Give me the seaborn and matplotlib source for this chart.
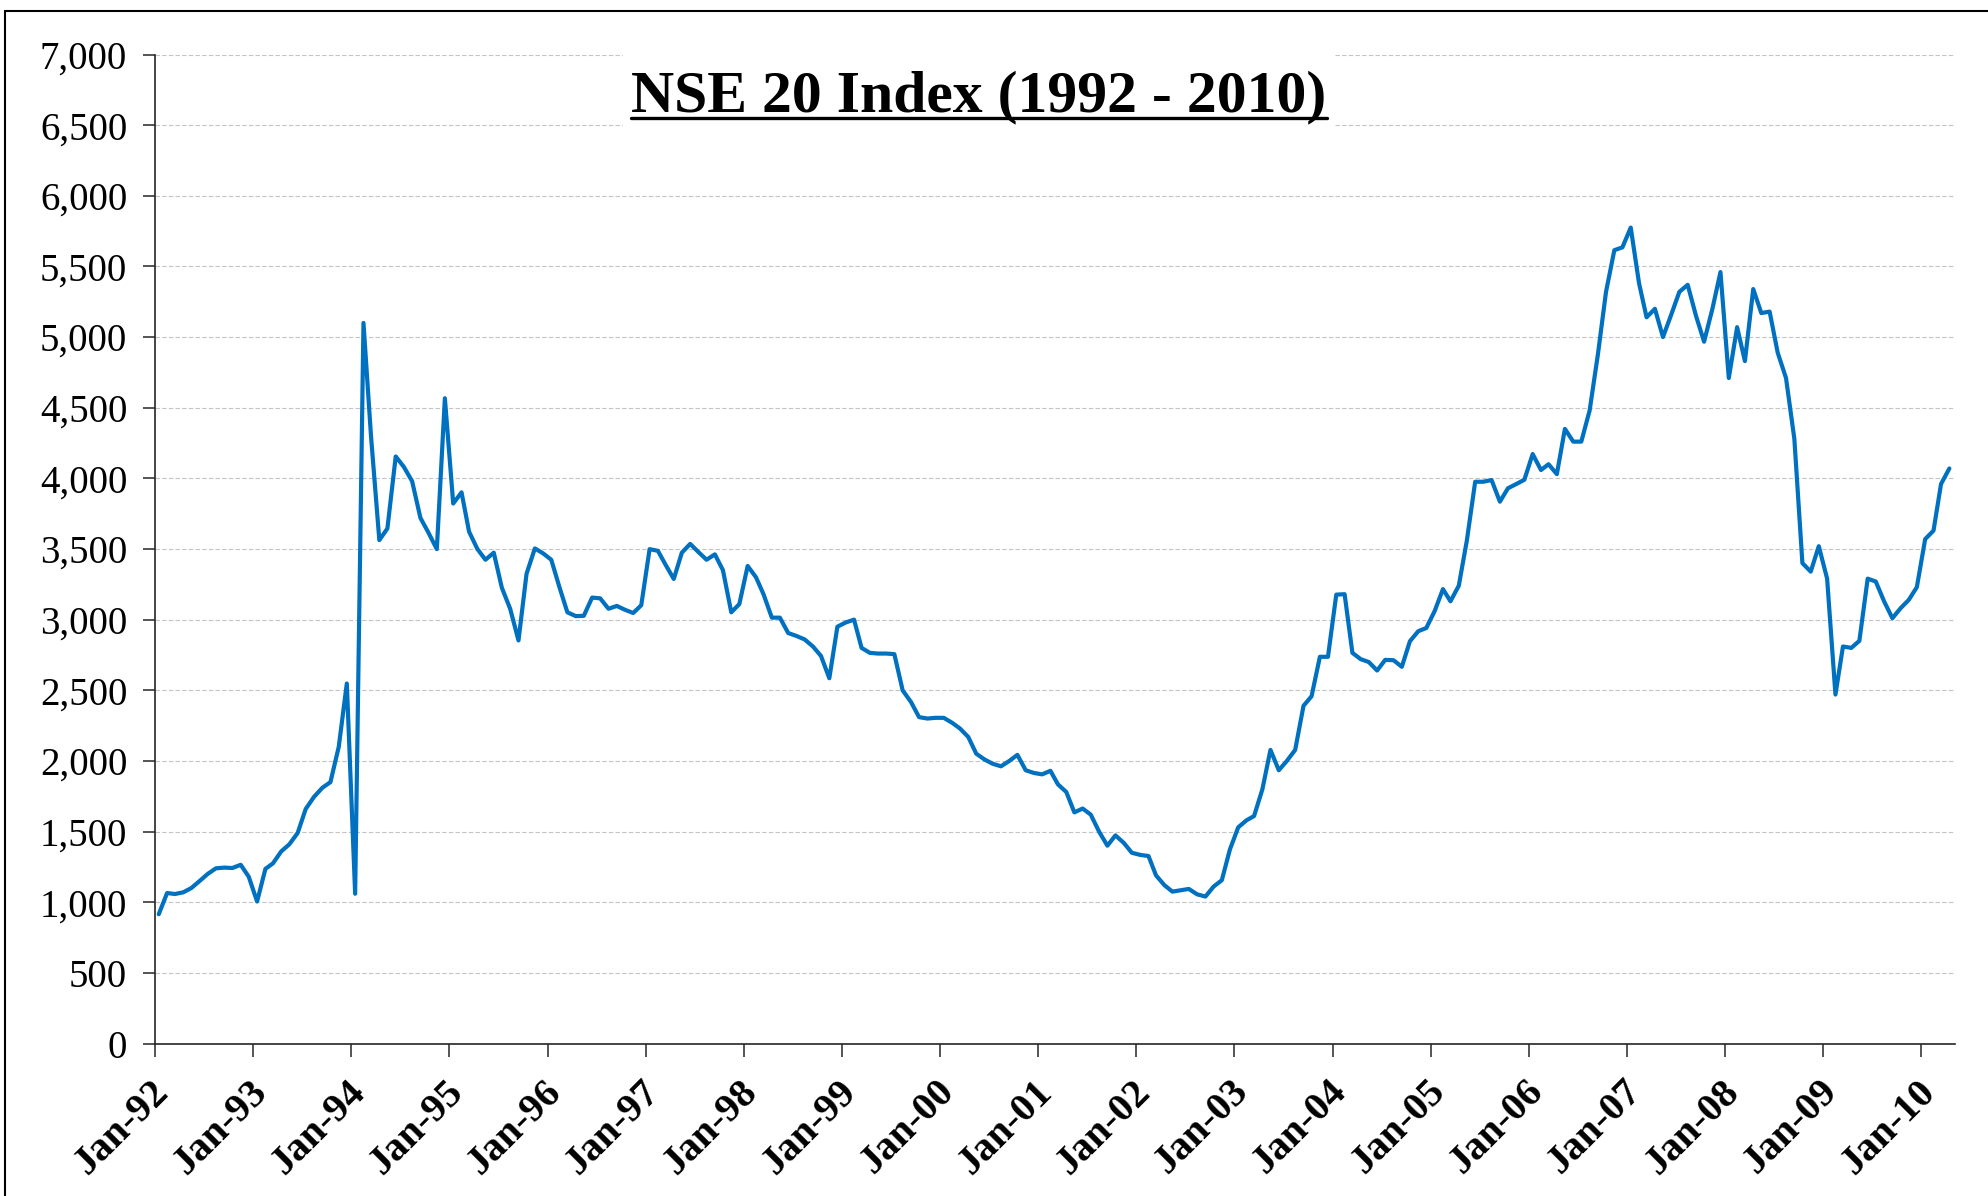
import pandas as pd
import numpy as np
import matplotlib
matplotlib.use('Agg')
import matplotlib.pyplot as plt
import matplotlib.dates as mdates
import matplotlib.transforms as mtransforms
from matplotlib.lines import Line2D
from matplotlib.patches import Rectangle
from matplotlib.ticker import FuncFormatter
import seaborn as sns

# %%
# NSE 20 monthly index levels (Jan-92 .. Apr-10)
title_text = 'NSE 20 Index (1992 - 2010)'
first_month = '1992-01-01'
axis_end = '2010-05-06'
nse20 = [
    915, 1065, 1058, 1070, 1100, 1150, 1200, 1240, 1245, 1242,
    1265, 1180, 1005, 1236, 1275, 1360, 1410, 1490, 1660, 1746,
    1810, 1850, 2100, 2548, 1060, 5100, 4300, 3563, 3645, 4155,
    4082, 3980, 3720, 3615, 3499, 4567, 3822, 3901, 3623, 3500,
    3424, 3474, 3226, 3077, 2853, 3325, 3504, 3470, 3424, 3226,
    3052, 3025, 3027, 3156, 3151, 3077, 3097, 3070, 3047, 3102,
    3499, 3487, 3390, 3288, 3474, 3536, 3480, 3424, 3462, 3350,
    3052, 3110, 3380, 3300, 3180, 3014, 3014, 2905, 2885, 2860,
    2810, 2743, 2585, 2950, 2980, 3000, 2800, 2765, 2760, 2760,
    2756, 2499, 2417, 2310, 2300, 2305, 2305, 2270, 2230, 2170,
    2051, 2010, 1980, 1962, 2000, 2043, 1934, 1915, 1905, 1930,
    1834, 1780, 1636, 1663, 1620, 1500, 1400, 1473, 1420, 1350,
    1335, 1327, 1190, 1121, 1075, 1085, 1094, 1056, 1040, 1110,
    1156, 1373, 1530, 1580, 1610, 1800, 2078, 1934, 2000, 2078,
    2390, 2458, 2737, 2737, 3177, 3180, 2765, 2720, 2700, 2640,
    2715, 2713, 2666, 2847, 2918, 2941, 3060, 3216, 3130, 3240,
    3560, 3976, 3976, 3988, 3835, 3930, 3960, 3990, 4172, 4059,
    4100, 4030, 4350, 4260, 4260, 4480, 4880, 5320, 5615, 5635,
    5775, 5380, 5140, 5200, 5000, 5160, 5320, 5370, 5150, 4967,
    5200, 5460, 4710, 5070, 4830, 5340, 5170, 5180, 4890, 4710,
    4280, 3400, 3340, 3520, 3290, 2470, 2810, 2800, 2850, 3290,
    3270, 3130, 3010, 3080, 3140, 3230, 3570, 3630, 3960, 4070,
]
y_ticks = [0, 500, 1000, 1500, 2000, 2500, 3000, 3500, 4000, 4500, 5000, 5500, 6000, 6500, 7000]

months = pd.date_range(first_month, periods=len(nse20), freq='MS') + pd.Timedelta(days=14)
df = pd.DataFrame({'month': months, 'nse20': nse20})

# %%
sns.set_theme(style='white')
plt.rcParams['font.family'] = ['Liberation Serif', 'DejaVu Serif']

W, H = 1988, 1196
fig = plt.figure(figsize=(W / 100, H / 100), dpi=100)
ax = fig.add_axes([155 / W, 1 - 1043.5 / H, (1955 - 155) / W, (1043.5 - 54.5) / H])

ax.yaxis.grid(True, color='#c4c4c4', linestyle=(0, (4, 2)), linewidth=0.8)
ax.xaxis.grid(False)
sns.lineplot(data=df, x='month', y='nse20', ax=ax, color='#0070c0', linewidth=3.0)

ax.set_ylim(0, 7000)
ax.set_yticks(y_ticks)
ax.yaxis.set_major_formatter(FuncFormatter(lambda v, p: f'{v:,.0f}'))
ax.set_xlim(pd.Timestamp(first_month), pd.Timestamp(axis_end))
ax.xaxis.set_major_locator(mdates.YearLocator())
ax.xaxis.set_major_formatter(mdates.DateFormatter('%b-%y'))
ax.set_xlabel('')
ax.set_ylabel('')

for side in ['top', 'right']:
    ax.spines[side].set_visible(False)
for side in ['left', 'bottom']:
    ax.spines[side].set_color('#262626')
    ax.spines[side].set_linewidth(1.2)

ax.tick_params(axis='y', left=True, length=9, width=1.1, color='#262626', labelsize=28, pad=11, labelcolor='black')
ax.tick_params(axis='x', bottom=True, length=9, width=1.1, color='#262626', labelsize=29, pad=22, labelcolor='black')
shift = mtransforms.ScaledTranslation(6 / 72, 0, fig.dpi_scale_trans)
for lbl in ax.get_xticklabels():
    lbl.set_rotation(45)
    lbl.set_ha('right')
    lbl.set_va('center')
    lbl.set_rotation_mode('anchor')
    lbl.set_fontweight('bold')
    lbl.set_transform(lbl.get_transform() + shift)

# white box behind the title, hides the top gridlines
fig.add_artist(Rectangle((623 / W, 1 - 160 / H), (1335 - 623) / W, 130 / H,
                         transform=fig.transFigure, facecolor='white', edgecolor='none', zorder=2))
title = fig.text(979 / W, 1 - 111 / H, title_text, ha='center', va='baseline',
                 fontsize=43, fontweight='bold', color='black', zorder=3)

fig.canvas.draw()
bb = title.get_window_extent()
fig.add_artist(Line2D([bb.x0 / W, bb.x1 / W], [1 - 118 / H, 1 - 118 / H],
                      transform=fig.transFigure, color='black', linewidth=2.4, zorder=3))

# outer chart border
fig.add_artist(Line2D([5 / W, 5 / W], [0, 1 - 11 / H], transform=fig.transFigure, color='black', linewidth=1.5))
fig.add_artist(Line2D([5 / W, 1], [1 - 11 / H, 1 - 11 / H], transform=fig.transFigure, color='black', linewidth=1.5))

plt.savefig('out.png', dpi=100)
